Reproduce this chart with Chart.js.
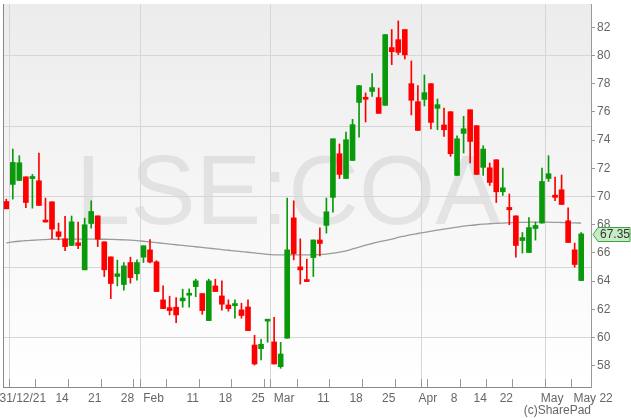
<!DOCTYPE html>
<html><head><meta charset="utf-8">
<script src="https://cdn.jsdelivr.net/npm/chart.js@4.4.0/dist/chart.umd.min.js"></script>
<style>html,body{margin:0;padding:0;background:#fff}#wrap{width:631px;height:418px}</style>
</head><body><div id="wrap"><canvas id="c" width="631" height="418"></canvas></div>
<script>
// Trading days (last entry is an empty slot after the last candle)
const dates = ['2021-12-31',
 '2022-01-04','2022-01-05','2022-01-06','2022-01-07','2022-01-10','2022-01-11','2022-01-12','2022-01-13','2022-01-14',
 '2022-01-17','2022-01-18','2022-01-19','2022-01-20','2022-01-21','2022-01-24','2022-01-25','2022-01-26','2022-01-27','2022-01-28','2022-01-31',
 '2022-02-01','2022-02-02','2022-02-03','2022-02-04','2022-02-07','2022-02-08','2022-02-09','2022-02-10','2022-02-11',
 '2022-02-14','2022-02-15','2022-02-16','2022-02-17','2022-02-18','2022-02-21','2022-02-22','2022-02-23','2022-02-24','2022-02-25','2022-02-28',
 '2022-03-01','2022-03-02','2022-03-03','2022-03-04','2022-03-07','2022-03-08','2022-03-09','2022-03-10','2022-03-11',
 '2022-03-14','2022-03-15','2022-03-16','2022-03-17','2022-03-18','2022-03-21','2022-03-22','2022-03-23','2022-03-24','2022-03-25',
 '2022-03-28','2022-03-29','2022-03-30','2022-03-31',
 '2022-04-01','2022-04-04','2022-04-05','2022-04-06','2022-04-07','2022-04-08','2022-04-11','2022-04-12','2022-04-13','2022-04-14',
 '2022-04-19','2022-04-20','2022-04-21','2022-04-22','2022-04-25','2022-04-26','2022-04-27','2022-04-28','2022-04-29',
 '2022-05-03','2022-05-04','2022-05-05','2022-05-06','2022-05-09','2022-05-10','2022-05-11'];

const opens = [69.65,70.86,71.14,71.4,71.28,71.12,68.3,69.63,67.5,67.0,
 66.53,66.72,64.8,68.09,68.63,66.79,65.72,64.33,63.76,65.32,
 64.52,65.7,66.22,65.37,62.67,62.12,62.15,62.6,63.0,63.61,
 63.12,61.2,63.66,62.95,62.31,62.26,61.96,62.17,59.47,59.21,
 61.16,59.69,57.93,59.95,68.49,65.01,64.09,65.67,66.92,67.95,
 69.94,73.04,71.28,72.56,76.68,77.04,77.46,77.02,76.47,80.57,
 81.13,81.85,78.01,76.73,76.89,78.01,76.26,75.08,76.02,71.5,
 74.48,76.16,75.03,72.07,72.04,72.61,70.34,69.23,68.63,66.88,
 66.03,67.73,68.12,71.28,70.1,70.48,68.28,66.22,64.04];
const highs = [69.82,73.37,72.9,71.4,71.57,73.09,69.89,69.63,68.12,68.59,
 68.62,68.19,68.47,69.7,68.63,66.79,65.72,65.49,65.32,65.7,
 65.51,66.51,66.95,65.45,63.66,62.93,62.83,63.43,63.45,64.14,
 63.12,64.14,64.14,64.02,62.67,62.67,62.43,62.67,60.16,59.88,
 61.23,61.44,59.66,69.89,69.7,67.0,65.56,66.92,67.78,69.89,
 74.1,73.73,74.58,75.48,77.87,77.35,78.72,77.7,81.49,81.85,
 82.46,81.85,79.62,77.87,78.63,78.01,76.92,76.28,76.02,74.3,
 75.69,76.16,75.03,73.61,72.38,72.61,72.02,70.18,68.63,67.45,
 68.51,68.19,72.02,72.9,71.38,71.53,69.2,66.7,67.45];
const lows = [69.13,69.82,71.14,69.22,69.18,69.37,68.19,67.02,66.93,66.17,
 66.53,66.31,64.8,67.76,66.45,64.32,62.76,63.66,63.36,63.86,
 64.07,65.32,65.3,63.26,62.05,61.6,61.06,62.15,62.15,62.9,
 61.65,61.2,63.26,61.94,61.87,61.37,61.37,60.49,58.05,58.41,
 59.66,58.12,57.82,59.95,65.51,63.79,63.97,64.33,65.79,67.41,
 68.9,71.28,71.28,72.56,74.22,75.29,77.11,75.9,76.47,79.36,
 80.07,79.76,75.79,74.69,76.43,74.79,74.74,74.27,72.85,71.5,
 73.09,72.38,71.57,71.5,70.79,69.58,70.08,68.0,65.7,65.99,
 66.03,66.91,68.12,71.07,69.7,69.44,66.74,64.99,64.04];
const closes = [69.13,72.42,72.4,69.58,71.4,69.37,68.19,67.69,67.17,66.45,
 68.21,66.53,68.0,68.94,66.98,64.8,63.83,64.52,65.08,64.25,
 65.32,66.51,65.35,63.26,62.05,61.91,61.6,62.8,63.07,64.02,
 61.91,64.02,63.26,62.36,62.05,62.41,61.56,60.49,58.12,59.52,
 61.23,58.12,58.83,66.22,65.94,64.8,63.97,66.92,66.67,68.92,
 74.1,71.57,74.03,75.1,77.87,76.9,77.73,75.9,81.49,80.28,
 80.23,80.05,76.83,74.69,77.37,75.26,76.52,74.74,73.04,74.1,
 74.81,73.91,71.57,73.37,71.0,70.34,70.62,69.06,66.53,67.09,
 67.8,67.95,71.07,71.62,69.94,69.44,66.74,65.18,67.35];
const movingAvg = [66.72,66.78,66.83,66.87,66.9,66.93,66.95,66.97,66.97,66.98,
 66.98,66.98,66.98,66.98,66.97,66.97,66.96,66.95,66.93,66.91,
 66.88,66.83,66.78,66.73,66.68,66.63,66.58,66.53,66.48,66.44,
 66.39,66.34,66.29,66.24,66.19,66.15,66.1,66.05,66.0,65.95,
 65.9,65.87,65.87,65.87,65.87,65.86,65.86,65.87,65.88,65.92,
 65.98,66.06,66.15,66.28,66.42,66.55,66.67,66.78,66.88,66.98,
 67.1,67.2,67.3,67.38,67.46,67.54,67.62,67.69,67.76,67.83,
 67.9,67.95,68.0,68.04,68.07,68.1,68.12,68.14,68.16,68.17,
 68.18,68.19,68.19,68.18,68.17,68.16,68.15,68.13,68.12];

const xLabelIndex = [3,9,14,19,23,29,34,39,43,49,54,59,65,69,73,77,84,89];
const xLabelText  = ['31/12/21','14','21','28','Feb','11','18','25','Mar','11','18','25','Apr','8','14','22','May','     May 22'];
const monthStartIndex = [1,21,41,64,83];
const weekStartIndex = [5,10,15,20,25,30,35,40,45,50,55,60,65,70,74,78,87];
const yLabelTicks = [58,60,62,64,66,68,70,72,74,76,78,80,82];
const yGridValues = [60,65,70,75,80];
const watermark = 'LSE:COA';

const GREEN = '#0a990a', RED = '#ff0000';
const candleColor = i => closes[i] >= opens[i] ? GREEN : RED;
const FONT = "'Liberation Sans', Arial, sans-serif";

const bgPlugin = {
  id: 'bg',
  beforeDraw(chart) {
    const {ctx, chartArea: a} = chart;
    ctx.save();
    ctx.fillStyle = '#fff';
    ctx.fillRect(0, 0, chart.width, chart.height);
    const g = ctx.createLinearGradient(0, a.top, 0, a.bottom);
    g.addColorStop(0, '#ececec');
    g.addColorStop(1, '#ffffff');
    ctx.fillStyle = g;
    ctx.fillRect(a.left, a.top, a.right - a.left, a.bottom - a.top);
    ctx.font = '98px ' + FONT;
    ctx.fillStyle = 'rgba(0,0,0,0.075)';
    ctx.textAlign = 'center';
    ctx.textBaseline = 'alphabetic';
    ctx.fillText(watermark, a.left + (a.right - a.left) * 0.485, a.top + (a.bottom - a.top) * 0.575);
    ctx.restore();
  },
  afterDraw(chart) {
    const {ctx, chartArea: a, scales} = chart;
    ctx.save();
    ctx.strokeStyle = '#888';
    ctx.lineWidth = 1;
    ctx.beginPath();
    ctx.moveTo(a.left + 0.5, a.top);
    ctx.lineTo(a.left + 0.5, a.bottom);
    ctx.stroke();
    // last price badge
    const last = closes[closes.length - 1];
    const y = Math.round(scales.y.getPixelForValue(last)) + 0.5;
    const x0 = a.right + 2, x1 = a.right + 7, x2 = chart.width - 1;
    ctx.beginPath();
    ctx.moveTo(x0, y);
    ctx.lineTo(x1, y - 7);
    ctx.lineTo(x2, y - 7);
    ctx.lineTo(x2, y + 7);
    ctx.lineTo(x1, y + 7);
    ctx.closePath();
    ctx.fillStyle = '#c6ecc6';
    ctx.fill();
    ctx.strokeStyle = '#3da53d';
    ctx.stroke();
    ctx.fillStyle = '#333';
    ctx.font = '12px ' + FONT;
    ctx.textAlign = 'center';
    ctx.textBaseline = 'middle';
    ctx.fillText(last.toFixed(2), (x1 + x2) / 2 + 1, y + 0.5);
    ctx.restore();
  }
};

new Chart(document.getElementById('c'), {
  type: 'bar',
  data: {
    labels: dates,
    datasets: [
      {
        type: 'line', label: 'MA', data: movingAvg, order: 3,
        borderColor: '#9a9a9a', borderWidth: 1.3, pointRadius: 0, tension: 0.3, fill: false
      },
      {
        label: 'wick', data: lows.map((l, i) => [l, highs[i]]), order: 2,
        backgroundColor: ctx => candleColor(ctx.dataIndex), barThickness: 1, grouped: false,
        borderWidth: 0
      },
      {
        label: 'body', data: opens.map((o, i) => [o, closes[i]]), order: 1,
        backgroundColor: ctx => candleColor(ctx.dataIndex), barThickness: 5, grouped: false,
        borderWidth: 0, minBarLength: 2
      }
    ]
  },
  options: {
    responsive: false,
    animation: false,
    devicePixelRatio: 1,
    layout: { padding: { left: 3, top: 4, right: 0, bottom: 0 } },
    plugins: { legend: { display: false }, tooltip: { enabled: false } },
    scales: {
      x: {
        type: 'category',
        offset: true,
        afterFit: s => { s.height = 31; s.paddingLeft = 0; s.paddingRight = 0; },
        grid: {
          offset: true,
          color: ctx => monthStartIndex.includes(ctx.index) ? '#d6d6d6' : 'rgba(0,0,0,0)',
          tickColor: ctx => (weekStartIndex.includes(ctx.index) || monthStartIndex.includes(ctx.index)) ? '#999' : 'rgba(0,0,0,0)',
          tickLength: -8,
          lineWidth: 1
        },
        border: { display: true, color: '#888', width: 1 },
        ticks: {
          autoSkip: false, maxRotation: 0, minRotation: 0, labelOffset: -3, padding: 12,
          color: '#666', font: { family: FONT, size: 12 },
          callback: (v, i) => { const k = xLabelIndex.indexOf(i); return k >= 0 ? xLabelText[k] : ''; }
        },
        title: { display: true, text: '(c)SharePad', align: 'end', color: '#666', font: { family: FONT, size: 12 }, padding: { top: 0, bottom: 0 } }
      },
      y: {
        type: 'linear',
        position: 'right',
        min: 56.49, max: 83.66,
        afterFit: s => { s.width = 40; s.paddingTop = 0; s.paddingBottom = 0; },
        afterBuildTicks: s => {
          const vals = Array.from(new Set(yLabelTicks.concat(yGridValues))).sort((a, b) => a - b);
          s.ticks = vals.map(v => ({ value: v }));
        },
        grid: {
          color: ctx => (ctx.tick && yGridValues.includes(ctx.tick.value)) ? '#d6d6d6' : 'rgba(0,0,0,0)',
          tickColor: ctx => (ctx.tick && yLabelTicks.includes(ctx.tick.value)) ? '#999' : 'rgba(0,0,0,0)',
          tickLength: 4
        },
        border: { display: true, color: '#999', width: 1 },
        ticks: {
          autoSkip: false, padding: 2, color: '#666', font: { family: FONT, size: 12 },
          callback: v => yLabelTicks.includes(v) ? String(v) : ''
        }
      }
    }
  },
  plugins: [bgPlugin]
});
</script></body></html>
